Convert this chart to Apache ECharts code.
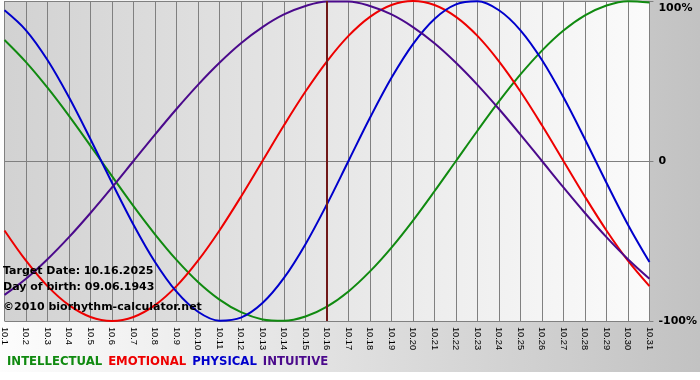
<!DOCTYPE html>
<html><head><meta charset="utf-8">
<script src="https://cdn.jsdelivr.net/npm/echarts@6/dist/echarts.min.js"></script>
<style>html,body{margin:0;padding:0;background:#fff}#c{width:700px;height:380px}</style>
</head><body><div id="c"></div>
<script>
var days = ['10.1','10.2','10.3','10.4','10.5','10.6','10.7','10.8','10.9','10.10','10.11','10.12','10.13','10.14','10.15','10.16','10.17','10.18','10.19','10.20','10.21','10.22','10.23','10.24','10.25','10.26','10.27','10.28','10.29','10.30','10.31'];
var intellectual = [0.756,0.618,0.458,0.282,0.095,-0.095,-0.282,-0.458,-0.618,-0.756,-0.866,-0.945,-0.990,-0.999,-0.972,-0.910,-0.815,-0.690,-0.541,-0.372,-0.189,0,0.189,0.372,0.541,0.690,0.815,0.910,0.972,0.999,0.990];
var emotional = [-0.434,-0.623,-0.782,-0.901,-0.975,-1.0,-0.975,-0.901,-0.782,-0.623,-0.434,-0.223,0,0.223,0.434,0.623,0.782,0.901,0.975,1.0,0.975,0.901,0.782,0.623,0.434,0.223,0,-0.223,-0.434,-0.623,-0.782];
var physical = [0.942,0.817,0.631,0.398,0.136,-0.136,-0.398,-0.631,-0.817,-0.942,-0.998,-0.979,-0.888,-0.731,-0.520,-0.270,0,0.270,0.520,0.731,0.888,0.979,0.998,0.942,0.817,0.631,0.398,0.136,-0.136,-0.398,-0.631];
var intuitive = [-0.837,-0.736,-0.614,-0.476,-0.325,-0.165,0,0.165,0.325,0.476,0.614,0.736,0.837,0.916,0.969,0.997,0.997,0.969,0.916,0.837,0.736,0.614,0.476,0.325,0.165,0,-0.165,-0.325,-0.476,-0.614,-0.736];
var targetDay = '10.16';
var yTicks = {'1':'100%','0':'0','-1':'-100%'};
var names = ['INTELLECTUAL','EMOTIONAL','PHYSICAL','INTUITIVE'];
var colors = ['#108a10','#ee0000','#0000cc','#4b0a8c'];
var infoLines = ['Target Date: 10.16.2025','Day of birth: 09.06.1943','\u00a92010 biorhythm-calculator.net'];

var chart = echarts.init(document.getElementById('c'));
var seriesData = [intellectual, emotional, physical, intuitive];
var series = seriesData.map(function(d,i){
  return {name:names[i], type:'line', data:d, smooth:0.35, symbol:'none',
    lineStyle:{color:colors[i], width:2}, itemStyle:{color:colors[i]}, z:3, silent:true};
});
series.push({type:'line', data:[], silent:true, z:4,
  markLine:{symbol:'none', silent:true, label:{show:false},
    lineStyle:{color:'#701818', width:2, type:'solid'},
    data:[{xAxis:targetDay}]}});
var fontMain = 'DejaVu Sans';
chart.setOption({
  animation:false,
  backgroundColor:{type:'linear',x:0,y:0,x2:1,y2:0,colorStops:[{offset:0,color:'#fdfdfd'},{offset:1,color:'#c2c2c2'}]},
  grid:{left:0,right:49,top:1,bottom:59,show:true,borderWidth:0,
    backgroundColor:{type:'linear',x:0,y:0,x2:1,y2:0,colorStops:[{offset:0,color:'#d2d2d2'},{offset:1,color:'#fbfbfb'}]}},
  legend:{left:2,top:356,padding:0,icon:'none',itemWidth:0,itemHeight:0,itemGap:1,selectedMode:false,
    textStyle:{fontFamily:fontMain,fontWeight:'bold',fontSize:11.7},
    data:names.map(function(n,i){return {name:n,textStyle:{color:colors[i]}};})},
  xAxis:{type:'category',data:days,boundaryGap:false,
    axisLine:{show:true,lineStyle:{color:'#808080',width:1}},
    axisTick:{show:true,interval:0,length:4,lineStyle:{color:'#808080'}},
    axisLabel:{interval:0,rotate:-90,color:'#000',fontFamily:'Liberation Sans',fontSize:9.2,margin:6},
    splitLine:{show:true,interval:0,lineStyle:{color:'#808080',width:1}}},
  yAxis:{type:'value',position:'right',min:-1,max:1,interval:1,
    axisLine:{show:false},
    axisTick:{show:true,length:4,lineStyle:{color:'#808080'}},
    splitLine:{show:true,lineStyle:{color:'#808080',width:1}},
    axisLabel:{margin:9,color:'#000',fontFamily:fontMain,fontWeight:'bold',fontSize:11,
      formatter:function(v){var s=yTicks[String(v)]; if(v===1) return '{t|'+s+'}'; return s;},
      rich:{t:{fontFamily:fontMain,fontWeight:'bold',fontSize:11,color:'#000',padding:[14,0,0,0]}}}},
  graphic:[
    {type:'rect',left:0,top:372,shape:{width:700,height:8},style:{fill:'#ffffff'},silent:true},
    {type:'text',left:3,top:266,style:{text:infoLines[0],font:'bold 11px "DejaVu Sans"',fill:'#000'},z:10},
    {type:'text',left:3,top:282,style:{text:infoLines[1],font:'bold 11px "DejaVu Sans"',fill:'#000'},z:10},
    {type:'text',left:3,top:302,style:{text:infoLines[2],font:'bold 11px "DejaVu Sans"',fill:'#000'},z:10}
  ],
  series:series
});
</script></body></html>
